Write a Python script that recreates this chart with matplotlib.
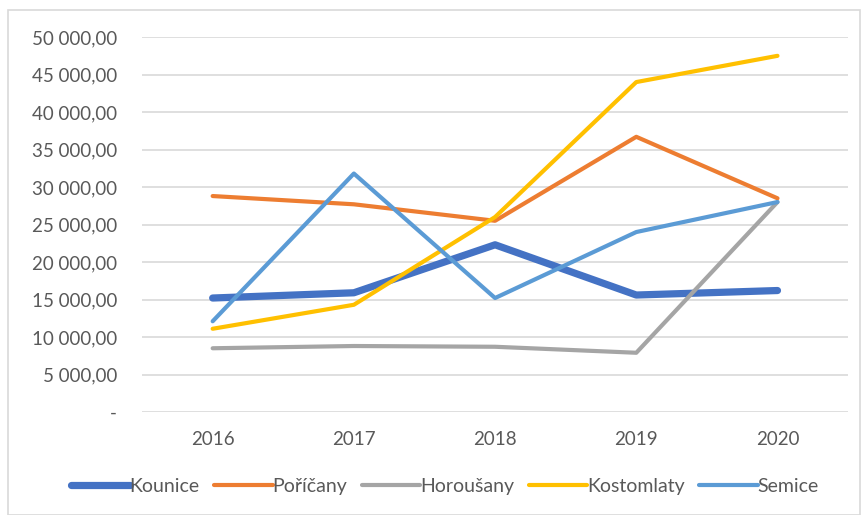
import matplotlib.pyplot as plt
from matplotlib.patches import Rectangle
from matplotlib.ticker import FuncFormatter

years = ['2016', '2017', '2018', '2019', '2020']
kounice = [15200, 15900, 22300, 15600, 16200]
poricany = [28800, 27700, 25500, 36700, 28500]
horousany = [8500, 8800, 8700, 7900, 28000]
kostomlaty = [11100, 14300, 26000, 44000, 47500]
semice = [12100, 31800, 15200, 24000, 28000]

plt.rcParams['font.family'] = ['Lato', 'DejaVu Sans']

fig = plt.figure(figsize=(8.61, 5.15), dpi=100)
ax = fig.add_axes([0.165, 0.2, 0.82, 0.728])

# chart border
fig.patches.append(Rectangle((0.009, 0.0), 0.99, 0.98, transform=fig.transFigure,
                             fill=False, edgecolor='#d9d9d9', linewidth=1.2))

x = range(len(years))
ax.plot(x, kounice, color='#4472c4', lw=5.2, label='Kounice', solid_capstyle='round')
ax.plot(x, poricany, color='#ed7d31', lw=3, label='Poříčany', solid_capstyle='round')
ax.plot(x, horousany, color='#a5a5a5', lw=3, label='Horoušany', solid_capstyle='round')
ax.plot(x, kostomlaty, color='#ffc000', lw=3, label='Kostomlaty', solid_capstyle='round')
ax.plot(x, semice, color='#5b9bd5', lw=3, label='Semice', solid_capstyle='round')

def fmt(v, pos):
    if v == 0:
        return '-'
    return '{:,.2f}'.format(v).replace(',', ' ').replace('.', ',')

ax.set_ylim(0, 50000)
ax.set_yticks(range(0, 50001, 5000))
ax.yaxis.set_major_formatter(FuncFormatter(fmt))
ax.set_xlim(-0.5, 4.5)
ax.set_xticks(list(x))
ax.set_xticklabels(years)
ax.grid(axis='y', color='#d9d9d9', lw=1.2)
ax.set_axisbelow(True)
for s in ax.spines.values():
    s.set_visible(False)
ax.tick_params(length=0, colors='#595959', labelsize=13.5)
ax.tick_params(axis='x', pad=14)
ax.tick_params(axis='y', pad=18)

fig.legend(loc='center', bbox_to_anchor=(0.517, 0.055), ncol=5, frameon=False,
           fontsize=14, handlelength=3.0, handletextpad=0.0, columnspacing=0.75,
           labelcolor='#595959')

fig.savefig('out.png')
